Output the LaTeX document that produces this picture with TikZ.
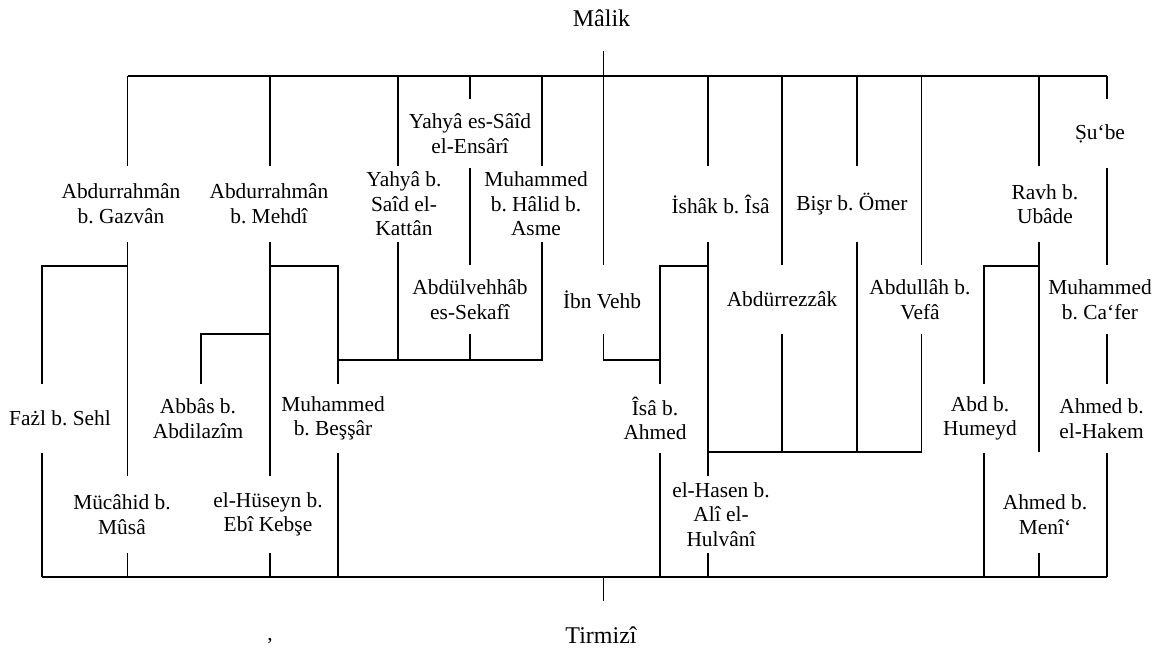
\documentclass[tikz,border=0pt]{standalone}
\usepackage{fontspec}
\setmainfont{Liberation Serif}
\usetikzlibrary{positioning, calc}
\frenchspacing

\begin{document}
\begin{tikzpicture}[x=0.5pt, y=-0.5pt, line width=0.85pt,
  every node/.style={font=\fontsize{10.7}{12.3}\selectfont, align=center, inner sep=0pt},
  short/.style={minimum height=33.5pt},
  tall/.style={minimum height=37pt},
  ends/.style={font=\fontsize{12}{14}\selectfont}]
  \useasboundingbox (0,0) rectangle (1163,651);

  \coordinate (k1) at (127.5,76);
  \coordinate (k2) at (270,76);
  \coordinate (k3) at (398,76);
  \coordinate (k4) at (470,76);
  \coordinate (k5) at (542,76);
  \coordinate (k6) at (603.5,76);
  \coordinate (k7) at (707.7,76);
  \coordinate (k8) at (782,76);
  \coordinate (k9) at (857,76);
  \coordinate (k10) at (921.5,76);
  \coordinate (k11) at (1039,76);
  \coordinate (k12) at (1107,76);
  \coordinate (jfazl) at (42,266);
  \coordinate (jabbas) at (201,334);
  \coordinate (jbessar) at (338,266);
  \coordinate (jmid) at (338,360);
  \coordinate (jisa) at (660,266);
  \coordinate (jlow) at (921.5,452);
  \coordinate (jhumeyd) at (984,266);
  \coordinate (bl) at (42,577);
  \coordinate (br) at (1107,577);

  \node [ends, minimum height=32.2pt] (malik) at (601.5,17.8) {Mâlik};
  \node [short] (ensari) at (470,133.5) {Yahyâ es-Sâîd\\el-Ensârî};
  \node [short] (sube) at (1100,133.5) {Ṣu‘be};

  \node [tall] (gazvan) at (121,204) {Abdurrahmân\\b. Gazvân};
  \node [tall] (mehdi) at (269,204) {Abdurrahmân\\b. Mehdî};
  \node [tall] (kattan) at (404,204) {Yahyâ b.\\Saîd el-\\Kattân};
  \node [tall] (asme) at (536,204) {Muhammed\\b. Hâlid b.\\Asme};
  \node [tall] (ishak) at (720.6,204) {İshâk b. Îsâ};
  \node [tall] (bisr) at (852,204) {Bişr b. Ömer};
  \node [tall] (ravh) at (1045,204) {Ravh b.\\Ubâde};

  \node [short] (sekafi) at (470,299.5) {Abdülvehhâb\\es-Sekafî};
  \node [short] (vehb) at (602,299.5) {İbn Vehb};
  \node [short] (rezzak) at (782,299.5) {Abdürrezzâk};
  \node [short] (vefa) at (920,299.5) {Abdullâh b.\\Vefâ};
  \node [short] (cafer) at (1100,299.5) {Muhammed\\b. Ca‘fer};

  \node [short] (fazl) at (60,418.5) {Fażl b. Sehl};
  \node [short] (abbas) at (198,418.5) {Abbâs b.\\Abdilazîm};
  \node [short] (bessar) at (333,418.5) {Muhammed\\b. Beşşâr};
  \node [short] (isa) at (655,418.5) {Îsâ b.\\Ahmed};
  \node [short] (humeyd) at (980,418.5) {Abd b.\\Humeyd};
  \node [short] (hakem) at (1101.5,418.5) {Ahmed b.\\el-Hakem};

  \node [minimum height=37.5pt] (mucahid) at (122,514.5) {Mücâhid b.\\Mûsâ};
  \node [minimum height=37.5pt] (huseyn) at (268,514.5) {el-Hüseyn b.\\Ebî Kebşe};
  \node [minimum height=37.5pt] (hulvani) at (721,514.5) {el-Hasen b.\\Alî el-\\Hulvânî};
  \node [minimum height=37.5pt] (meni) at (1045,514.5) {Ahmed b.\\Menî‘};

  \node [ends, minimum height=32.8pt] (tirmizi) at (601,634.8) {Tirmizî};
  \node [anchor=base] (comma) at (270,641) {,};

  \draw (k1) -- (k12);
  \draw (malik.south -| k6) -- (k6);

  \draw (k1) -- (gazvan.north -| k1);
  \draw (gazvan.south -| k1) -- (mucahid.north -| k1);
  \draw (mucahid.south -| k1) -- (k1 |- bl);
  \draw (k1 |- jfazl) -- (jfazl) -- (fazl.north -| jfazl);
  \draw (fazl.south -| jfazl) -- (bl);

  \draw (k2) -- (mehdi.north -| k2);
  \draw (mehdi.south -| k2) -- (huseyn.north -| k2);
  \draw (huseyn.south -| k2) -- (k2 |- bl);
  \draw (k2 |- jabbas) -- (jabbas) -- (abbas.north -| jabbas);
  \draw (k2 |- jbessar) -- (jbessar) -- (bessar.north -| jbessar);
  \draw (bessar.south -| jbessar) -- (jbessar |- bl);

  \draw (k3) -- (kattan.north -| k3);
  \draw (kattan.south -| k3) -- (k3 |- jmid);
  \draw (k4) -- (ensari.north -| k4);
  \draw (ensari.south -| k4) -- (sekafi.north -| k4);
  \draw (sekafi.south -| k4) -- (k4 |- jmid);
  \draw (k5) -- (asme.north -| k5);
  \draw (asme.south -| k5) |- (jmid);

  \draw (k6) -- (vehb.north -| k6);
  \draw (vehb.south -| k6) |- (jisa |- jmid);
  \draw (k7 |- jisa) -- (jisa) -- (isa.north -| jisa);
  \draw (isa.south -| jisa) -- (jisa |- bl);
  \draw (k7) -- (ishak.north -| k7);
  \draw (ishak.south -| k7) -- (hulvani.north -| k7);
  \draw (hulvani.south -| k7) -- (k7 |- bl);
  \draw (k7 |- jlow) -- (jlow);

  \draw (k8) -- (rezzak.north -| k8);
  \draw (rezzak.south -| k8) -- (k8 |- jlow);
  \draw (k9) -- (bisr.north -| k9);
  \draw (bisr.south -| k9) -- (k9 |- jlow);
  \draw (k10) -- (vefa.north -| k10);
  \draw (vefa.south -| k10) -- (jlow);

  \draw (k11) -- (ravh.north -| k11);
  \draw (ravh.south -| k11) -- (k11 |- jlow);
  \draw (k11 |- jhumeyd) -- (jhumeyd) -- (humeyd.north -| jhumeyd);
  \draw (humeyd.south -| jhumeyd) -- (jhumeyd |- bl);
  \draw (meni.south -| k11) -- (k11 |- bl);
  \draw (k12) -- (sube.north -| k12);
  \draw (sube.south -| k12) -- (cafer.north -| k12);
  \draw (cafer.south -| k12) -- (hakem.north -| k12);
  \draw (hakem.south -| k12) -- (br);

  \draw (bl) -- (br);
  \draw (k6 |- bl) -- (tirmizi.north -| k6);
\end{tikzpicture}
\end{document}
